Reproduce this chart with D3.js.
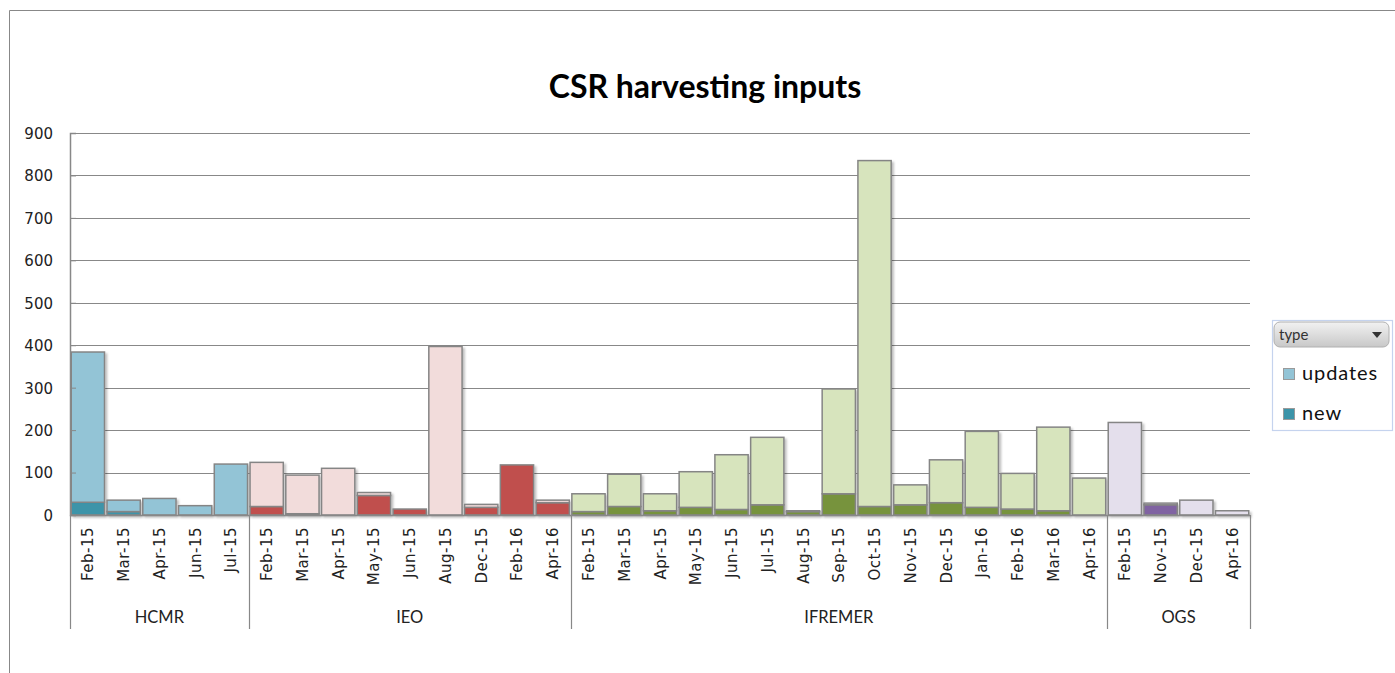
<!DOCTYPE html>
<html>
<head>
	<title>index</title>
	<meta charset="utf-8">
	<script src="https://d3js.org/d3.v7.min.js" charset="utf-8"></script>
	<style>
		body {
			margin: 0;
			background: #fff;
		}
		svg {
			display: block;
		}
		.ytick text {
			font-family: "DejaVu Sans", sans-serif;
			font-size: 15px;
			fill: #222;
		}
		.month {
			font-family: "DejaVu Sans", sans-serif;
			font-size: 15px;
			letter-spacing: 0.5px;
			fill: #222;
		}
		.group {
			font-family: Lato, sans-serif;
			font-size: 16.5px;
			fill: #222;
		}
	</style>
</head>
<body>
<script>

	// data
	var groups = ["HCMR", "IEO", "IFREMER", "OGS"];
	var groupSizes = [5, 9, 15, 4];
	var months = [
		"Feb-15", "Mar-15", "Apr-15", "Jun-15", "Jul-15",
		"Feb-15", "Mar-15", "Apr-15", "May-15", "Jun-15", "Aug-15", "Dec-15", "Feb-16", "Apr-16",
		"Feb-15", "Mar-15", "Apr-15", "May-15", "Jun-15", "Jul-15", "Aug-15", "Sep-15", "Oct-15",
		"Nov-15", "Dec-15", "Jan-16", "Feb-16", "Mar-16", "Apr-16",
		"Feb-15", "Nov-15", "Dec-15", "Apr-16"
	];
	var newValues = [
		30, 8, 0, 0, 0,
		20, 3, 0, 46, 14, 0, 18, 118, 29,
		8, 20, 10, 18, 13, 24, 8, 50, 20, 24, 29, 18, 14, 10, 0,
		0, 24, 0, 0
	];
	var updateValues = [
		354, 27, 39, 22, 120,
		104, 91, 110, 7, 0, 397, 7, 0, 6,
		42, 76, 40, 84, 129, 159, 2, 247, 815, 47, 101, 179, 84, 197, 87,
		218, 4, 35, 10
	];
	var yTicks = [0, 100, 200, 300, 400, 500, 600, 700, 800, 900];

	var palette = {
		HCMR: {updates: "#93c4d6", "new": "#3c94a9"},
		IEO: {updates: "#f2dcdb", "new": "#c0504d"},
		IFREMER: {updates: "#d7e4bd", "new": "#77933c"},
		OGS: {updates: "#e4dfec", "new": "#8064a2"}
	};

	// rows for the stack
	var rows = [];
	var idx = 0;
	groups.forEach(function(g, gi) {
		for (var k = 0; k < groupSizes[gi]; k++) {
			rows.push({key: g + "|" + idx, group: g, month: months[idx], "new": newValues[idx], updates: updateValues[idx]});
			idx++;
		}
	});

	var svg = d3.select("body").append("svg").attr("width", 1395).attr("height", 673);

	// drop shadow for the bars
	var defs = svg.append("defs");
	var f = defs.append("filter").attr("id", "shadow").attr("x", "-10%").attr("y", "-10%").attr("width", "130%").attr("height", "130%");
	f.append("feDropShadow").attr("dx", 2).attr("dy", 2).attr("stdDeviation", 1.2)
		.attr("flood-color", "#000").attr("flood-opacity", 0.25);

	// outer chart frame
	svg.append("path").attr("d", "M9.5,673 V10.5 H1395").attr("fill", "none").attr("stroke", "#888").attr("stroke-width", 1);

	svg.append("text")
		.attr("x", 705).attr("y", 98)
		.attr("text-anchor", "middle")
		.attr("font-family", "Lato, sans-serif")
		.attr("font-weight", "bold")
		.attr("font-size", 32)
		.attr("fill", "#000")
		.text("CSR harvesting inputs");

	var x = d3.scaleBand().domain(rows.map(function(d) { return d.key; })).range([70, 1250]).paddingInner(0.07).paddingOuter(0.035);
	var y = d3.scaleLinear().domain([0, 900]).range([515, 133]);

	// gridlines
	svg.append("g").selectAll("line").data(yTicks.slice(1)).enter().append("line")
		.attr("x1", 70).attr("x2", 1250)
		.attr("y1", function(d) { return Math.round(y(d)) + 0.5; })
		.attr("y2", function(d) { return Math.round(y(d)) + 0.5; })
		.attr("stroke", "#888").attr("stroke-width", 1.2);

	// stacked bars
	var stack = d3.stack().keys(["new", "updates"]);
	var series = stack(rows);

	var bars = svg.append("g").attr("filter", "url(#shadow)");
	series.forEach(function(s) {
		bars.selectAll("rect." + s.key).data(s).enter().append("rect")
			.attr("class", s.key)
			.attr("x", function(d) { return x(d.data.key); })
			.attr("width", x.bandwidth())
			.attr("y", function(d) { return y(d[1]); })
			.attr("height", function(d) { return Math.max(0, y(d[0]) - y(d[1])); })
			.attr("fill", function(d) { return palette[d.data.group][s.key]; })
			.attr("stroke", "#858585")
			.attr("stroke-width", 1.5)
			.attr("display", function(d) { return d[1] - d[0] > 0 ? null : "none"; });
	});

	// y axis
	var yAxis = svg.append("g").attr("class", "ytick").attr("transform", "translate(70,0)")
		.call(d3.axisLeft(y).tickValues(yTicks).tickSize(-6).tickPadding(17));
	yAxis.select(".domain").attr("stroke", "#888").attr("stroke-width", 1.5);
	yAxis.selectAll(".tick line").attr("stroke", "#888");
	yAxis.selectAll("text").attr("dy", "0.36em");

	// x axis baseline
	svg.append("line").attr("x1", 70).attr("x2", 1250).attr("y1", 515.5).attr("y2", 515.5)
		.attr("stroke", "#888").attr("stroke-width", 1.5);

	// month labels
	svg.append("g").selectAll("text").data(rows).enter().append("text")
		.attr("class", "month")
		.attr("transform", function(d) { return "translate(" + (x(d.key) + x.bandwidth() / 2 + 5.5) + ",527) rotate(-90)"; })
		.attr("text-anchor", "end")
		.text(function(d) { return d.month; });

	// group dividers and names
	var start = 0;
	var bounds = [70];
	groups.forEach(function(g, gi) {
		var first = rows[start], last = rows[start + groupSizes[gi] - 1];
		var step = x.step();
		var left = x(first.key) - (step - x.bandwidth()) / 2;
		var right = x(last.key) + x.bandwidth() + (step - x.bandwidth()) / 2;
		if (gi === 0) left = 70;
		if (gi === groups.length - 1) right = 1250;
		bounds.push(right);
		svg.append("text").attr("class", "group")
			.attr("x", (left + right) / 2).attr("y", 623)
			.attr("text-anchor", "middle")
			.text(g);
		start += groupSizes[gi];
	});
	svg.append("g").selectAll("line").data(bounds).enter().append("line")
		.attr("x1", function(d) { return Math.round(d) + 0.5; })
		.attr("x2", function(d) { return Math.round(d) + 0.5; })
		.attr("y1", 515).attr("y2", 629)
		.attr("stroke", "#888").attr("stroke-width", 1.2);

	// legend
	var legend = svg.append("g");
	legend.append("rect").attr("x", 1272.5).attr("y", 320.5).attr("width", 120).attr("height", 110)
		.attr("fill", "#fff").attr("stroke", "#c5d3ee").attr("stroke-width", 1.2);
	var grad = defs.append("linearGradient").attr("id", "btn").attr("x1", 0).attr("y1", 0).attr("x2", 0).attr("y2", 1);
	grad.append("stop").attr("offset", "0%").attr("stop-color", "#f2f2f2");
	grad.append("stop").attr("offset", "100%").attr("stop-color", "#c8c8c8");
	legend.append("rect").attr("x", 1274).attr("y", 322).attr("width", 115).attr("height", 25).attr("rx", 6)
		.attr("fill", "url(#btn)").attr("stroke", "#b0b0b0");
	legend.append("text").attr("x", 1279).attr("y", 340)
		.attr("font-family", "Lato, sans-serif").attr("font-size", 15).attr("fill", "#333").text("type");
	legend.append("path").attr("d", "M1372,332 L1382,332 L1377,338 Z").attr("fill", "#333");

	var legendKeys = ["updates", "new"];
	legendKeys.forEach(function(k, i) {
		var ly = 368 + i * 40;
		legend.append("rect").attr("x", 1283.5).attr("y", ly + 0.5).attr("width", 11).attr("height", 11)
			.attr("fill", palette.HCMR[k]).attr("stroke", "#9a9a9a");
		legend.append("text").attr("x", 1302).attr("y", ly + 12)
			.attr("font-family", "Lato, sans-serif").attr("font-size", 20).attr("letter-spacing", 0.9)
			.attr("fill", "#111").text(k);
	});

</script>
</body>
</html>
